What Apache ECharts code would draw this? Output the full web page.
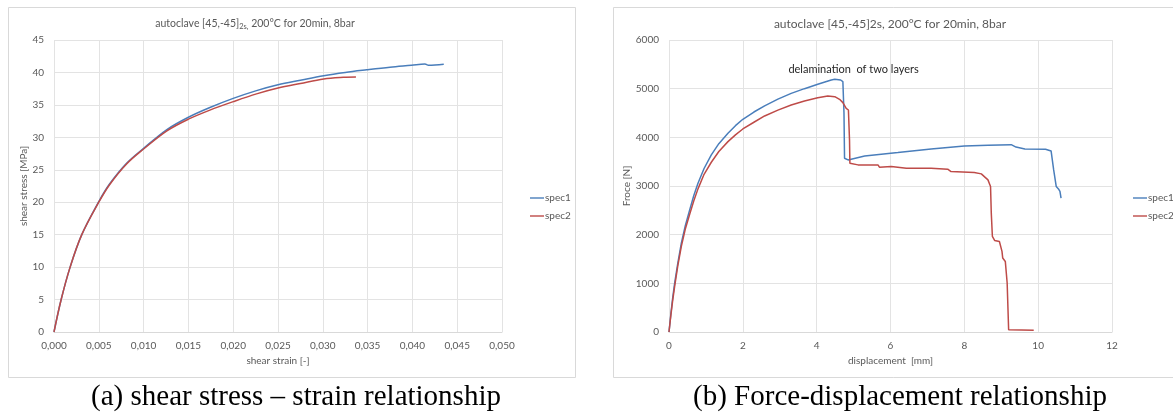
<!DOCTYPE html>
<html>
<head>
<meta charset="utf-8">
<script src="https://cdn.jsdelivr.net/npm/echarts@6/dist/echarts.min.js"></script>
<style>
html,body{margin:0;padding:0;background:#fff;}
#c{width:1173px;height:414px;}
</style>
</head>
<body>
<div id="c"></div>
<script>
// ---- Chart (a): shear stress vs shear strain ----
var strainTicks = [0, 0.005, 0.01, 0.015, 0.02, 0.025, 0.03, 0.035, 0.04, 0.045, 0.05];
var spec1Strain = [0, 0.0008, 0.0018, 0.0031, 0.0050, 0.0062, 0.0081, 0.0100, 0.0126, 0.0150, 0.0174, 0.0200, 0.0226, 0.0250, 0.0275, 0.0301, 0.0325, 0.0349, 0.0375, 0.0399, 0.0414, 0.0418, 0.0435];
var spec1Stress = [0, 5, 10, 15, 20.1, 22.8, 26.0, 28.3, 31.2, 33.1, 34.6, 36.0, 37.2, 38.1, 38.8, 39.5, 40.0, 40.4, 40.8, 41.1, 41.3, 41.1, 41.25];
var spec2Strain = [0, 0.0008, 0.0018, 0.0031, 0.0050, 0.0062, 0.0081, 0.0100, 0.0126, 0.0150, 0.0174, 0.0200, 0.0226, 0.0250, 0.0275, 0.0301, 0.0323, 0.0337];
var spec2Stress = [0, 5, 10, 15, 20.0, 22.7, 25.9, 28.2, 31.0, 32.8, 34.2, 35.5, 36.7, 37.6, 38.3, 39.0, 39.25, 39.3];

// ---- Chart (b): force vs displacement ----
var spec1Disp = [0, 0.05, 0.1, 0.153, 0.24, 0.334, 0.44, 0.56, 0.67, 0.785, 0.95, 1.146, 1.35, 1.597, 1.8, 2.0, 2.3, 2.59, 2.95, 3.31, 3.67, 4.03, 4.395, 4.49, 4.65, 4.71, 4.74, 4.755, 4.85, 5.3, 6.2, 6.24, 7.1, 8.0, 8.64, 9.27, 9.4, 9.64, 10.2, 10.35, 10.42, 10.49, 10.55, 10.59, 10.62];
var spec1Force = [0, 370, 700, 1005, 1420, 1826, 2180, 2510, 2800, 3057, 3360, 3639, 3870, 4083, 4240, 4371, 4520, 4645, 4785, 4904, 5000, 5089, 5178, 5192, 5178, 5144, 4494, 3570, 3536, 3618, 3687, 3660, 3762, 3824, 3837, 3850, 3800, 3762, 3755, 3720, 3330, 2989, 2940, 2890, 2750];
var spec2Disp = [0, 0.05, 0.1, 0.153, 0.24, 0.334, 0.44, 0.56, 0.67, 0.785, 0.95, 1.146, 1.35, 1.597, 1.8, 2.0, 2.3, 2.59, 2.95, 3.31, 3.67, 4.03, 4.3, 4.49, 4.62, 4.71, 4.8, 4.86, 4.89, 4.9, 5.12, 5.66, 5.7, 6.02, 6.43, 7.1, 7.55, 7.64, 8.27, 8.46, 8.64, 8.71, 8.73, 8.76, 8.82, 8.95, 9.02, 9.04, 9.11, 9.16, 9.2, 9.88];
var spec2Force = [0, 340, 650, 937, 1370, 1758, 2110, 2421, 2690, 2941, 3240, 3488, 3710, 3912, 4050, 4172, 4310, 4439, 4560, 4665, 4745, 4815, 4850, 4836, 4781, 4713, 4596, 4562, 3946, 3468, 3434, 3434, 3386, 3400, 3365, 3365, 3345, 3297, 3276, 3249, 3126, 2989, 2442, 1963, 1881, 1860, 1656, 1519, 1450, 1006, 48, 34];

var seriesNames = ['spec1', 'spec2'];
var titleA = 'autoclave [45,-45]{sub|2s,} 200°C for 20min, 8bar';
var titleB = 'autoclave [45,-45]2s, 200°C for 20min, 8bar';
var annotation = 'delamination  of two layers';
var annotationAt = [5.0, 5400];
var captionA = '(a) shear stress \u2013 strain relationship';
var captionB = '(b) Force-displacement relationship';

function pairs(xs, ys) { return xs.map(function (x, i) { return [x, ys[i]]; }); }

var BLUE = '#4A7EBB', RED = '#BE4B48', GRID = '#e3e3e3', TXT = '#595959';
var FONT = 'Lato, "Open Sans", sans-serif';
var SERIF = '"Liberation Serif", "Times New Roman", serif';

function xAx(idx, min, max, interval, name, fmt) {
  return {
    gridIndex: idx, type: 'value', min: min, max: max, interval: interval,
    name: name, nameLocation: 'middle', nameGap: 23,
    nameTextStyle: { color: TXT, fontSize: 10, fontFamily: FONT },
    axisLine: { show: true, lineStyle: { color: '#d9d9d9' } },
    axisTick: { show: false },
    axisLabel: { color: TXT, fontSize: 10, fontFamily: FONT, margin: 9, formatter: fmt },
    splitLine: { show: true, lineStyle: { color: GRID } }
  };
}
function yAx(idx, min, max, interval, name, gap) {
  return {
    gridIndex: idx, type: 'value', min: min, max: max, interval: interval,
    name: name, nameLocation: 'middle', nameGap: gap,
    nameTextStyle: { color: TXT, fontSize: 10, fontFamily: FONT },
    axisLine: { show: false }, axisTick: { show: false },
    axisLabel: { color: TXT, fontSize: 10, fontFamily: FONT, margin: 10, formatter: function (v) { return String(v); } },
    splitLine: { show: true, lineStyle: { color: GRID } }
  };
}
function line(name, data, color, xi, yi, extra) {
  var s = { name: name, type: 'line', data: data, xAxisIndex: xi, yAxisIndex: yi,
    showSymbol: false, symbol: 'none', smooth: false, animation: false,
    lineStyle: { color: color, width: 1.5 }, itemStyle: { color: color } };
  if (extra) for (var k in extra) s[k] = extra[k];
  return s;
}
var legendCommon = { data: seriesNames, orient: 'vertical', top: 188, itemGap: 8, itemWidth: 14, itemHeight: 10,
  icon: 'path://M0,4.3 L14,4.3 L14,5.7 L0,5.7 Z',
  textStyle: { color: TXT, fontSize: 10, fontFamily: FONT, padding: [0, 0, 0, -4] } };

var chart = echarts.init(document.getElementById('c'), null, { renderer: 'canvas' });
chart.setOption({
  backgroundColor: '#fff',
  animation: false,
  title: [
    { text: titleA, left: 250, top: 11, textAlign: 'center',
      textStyle: { color: TXT, fontSize: 10.5, fontWeight: 'normal', fontFamily: FONT,
        rich: { sub: { fontSize: 7.5, color: TXT, fontFamily: FONT, padding: [7, 0, 0, 0] } } } },
    { text: titleB, left: 885, top: 13, textAlign: 'center',
      textStyle: { color: TXT, fontSize: 12, fontWeight: 'normal', fontFamily: FONT } }
  ],
  legend: [
    Object.assign({}, legendCommon, { left: 525 }),
    Object.assign({}, legendCommon, { left: 1128 })
  ],
  grid: [
    { left: 54, right: 671, top: 40, bottom: 82 },
    { left: 669, right: 61, top: 40, bottom: 82 }
  ],
  xAxis: [
    xAx(0, strainTicks[0], strainTicks[strainTicks.length - 1], 0.005, 'shear strain [-]',
      function (v) { return v.toFixed(3).replace('.', ','); }),
    xAx(1, 0, 12, 2, 'displacement  [mm]', function (v) { return String(v); })
  ],
  yAxis: [
    yAx(0, 0, 45, 5, 'shear stress [MPa]', 23),
    yAx(1, 0, 6000, 1000, 'Froce [N]', 31)
  ],
  series: [
    line('spec1', pairs(spec1Strain, spec1Stress), BLUE, 0, 0, { smooth: 0.35 }),
    line('spec2', pairs(spec2Strain, spec2Stress), RED, 0, 0, { smooth: 0.35 }),
    line('spec1', pairs(spec1Disp, spec1Force), BLUE, 1, 1, {
      markPoint: { symbol: 'circle', symbolSize: 0, silent: true,
        label: { show: true, formatter: annotation, color: '#262626', fontSize: 11, fontFamily: FONT, position: 'inside' },
        data: [{ coord: annotationAt }] }
    }),
    line('spec2', pairs(spec2Disp, spec2Force), RED, 1, 1)
  ],
  graphic: [
    { type: 'rect', shape: { x: 8.5, y: 7.5, width: 567, height: 370 }, style: { fill: null, stroke: '#d9d9d9', lineWidth: 1 }, z: -1 },
    { type: 'rect', shape: { x: 613.5, y: 7.5, width: 600, height: 370 }, style: { fill: null, stroke: '#d9d9d9', lineWidth: 1 }, z: -1 },
    { type: 'text', x: 296, y: 397, style: { text: captionA, fill: '#000', fontSize: 29, fontFamily: SERIF, textAlign: 'center', textVerticalAlign: 'middle' } },
    { type: 'text', x: 900, y: 397, style: { text: captionB, fill: '#000', fontSize: 29, fontFamily: SERIF, textAlign: 'center', textVerticalAlign: 'middle' } }
  ]
});
</script>
</body>
</html>
